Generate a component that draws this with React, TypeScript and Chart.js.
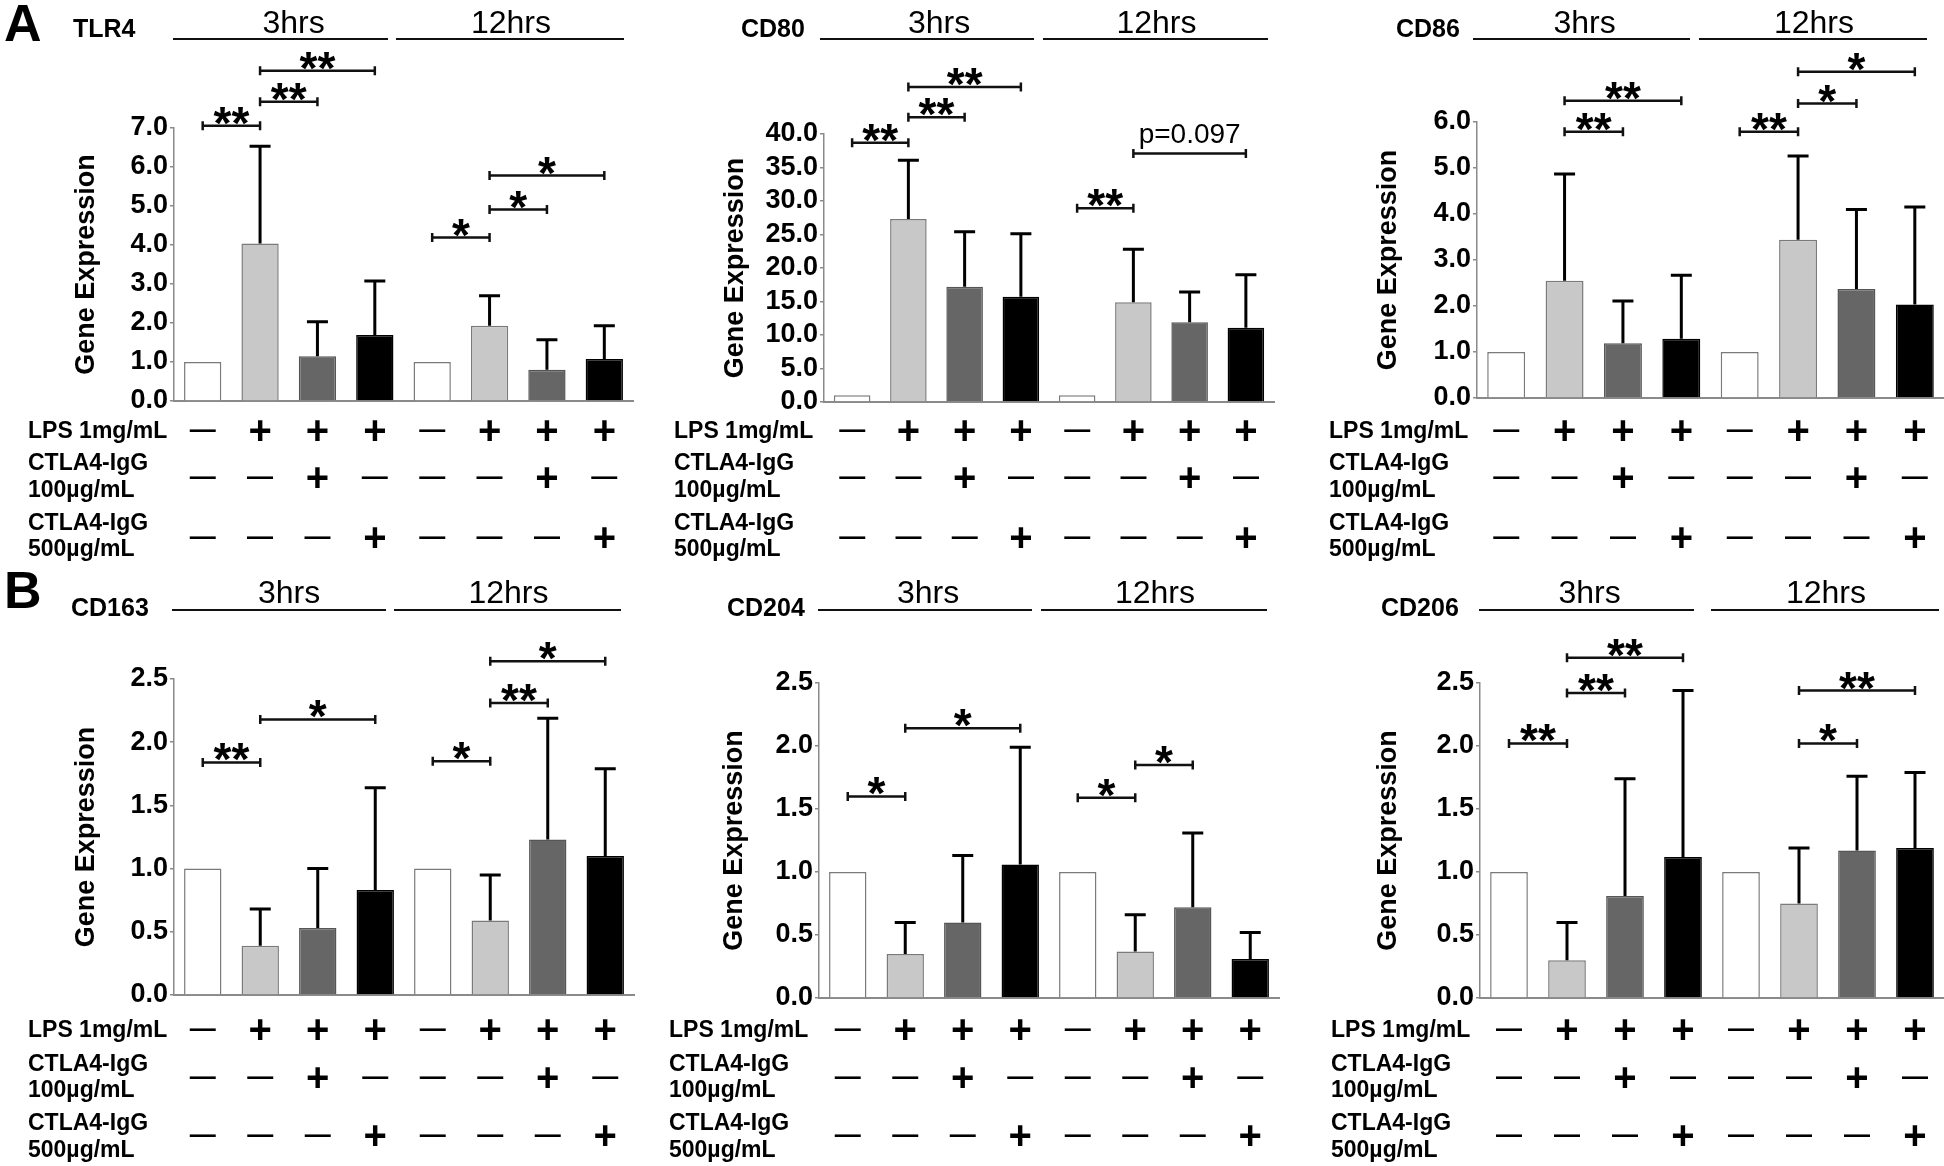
import React, { useEffect, useRef } from "react";
import { Chart, registerables } from "chart.js";
Chart.register(...registerables);

const FONT = '"Liberation Sans", Arial, Helvetica, sans-serif';

// ---------- data ----------
const categories = [
  "3hrs Control", "3hrs LPS", "3hrs LPS + CTLA4-IgG 100", "3hrs LPS + CTLA4-IgG 500",
  "12hrs Control", "12hrs LPS", "12hrs LPS + CTLA4-IgG 100", "12hrs LPS + CTLA4-IgG 500",
];
const timeGroups = ["3hrs", "12hrs"];
const rowLabels = ["LPS 1mg/mL", "CTLA4-IgG", "100µg/mL", "CTLA4-IgG", "500µg/mL"];
const lpsSigns = ["—", "+", "+", "+", "—", "+", "+", "+"];
const ctla100Signs = ["—", "—", "+", "—", "—", "—", "+", "—"];
const ctla500Signs = ["—", "—", "—", "+", "—", "—", "—", "+"];
const barColors = ["#ffffff", "#c8c8c8", "#666666", "#000000", "#ffffff", "#c8c8c8", "#666666", "#000000"];
const barBorders = ["#7a7a7a", "#7a7a7a", "#555555", "#000000", "#7a7a7a", "#7a7a7a", "#555555", "#000000"];

type Sig = [number, number, number, string];

const tlr4Mean = [1.0, 4.04, 1.15, 1.69, 1.0, 1.93, 0.8, 1.08];
const tlr4Err = [null, 6.53, 2.03, 3.08, null, 2.7, 1.57, 1.93];
const tlr4Ticks = [0, 1, 2, 3, 4, 5, 6, 7];
const tlr4Sig: Sig[] = [[0, 1, 7.06, "**"], [1, 2, 7.67, "**"], [1, 3, 8.47, "**"], [4, 5, 4.19, "*"], [5, 6, 4.91, "*"], [5, 7, 5.78, "*"]];

const cd80Mean = [1.0, 27.3, 17.2, 15.7, 1.0, 14.9, 11.9, 11.1];
const cd80Err = [null, 36.1, 25.4, 25.1, null, 22.8, 16.4, 19.0];
const cd80Ticks = [0, 5, 10, 15, 20, 25, 30, 35, 40];
const cd80Sig: Sig[] = [[0, 1, 38.7, "**"], [1, 2, 42.5, "**"], [1, 3, 47.0, "**"], [4, 5, 28.9, "**"], [5, 7, 37.1, "p=0.097"]];

const cd86Mean = [1.0, 2.55, 1.19, 1.29, 1.0, 3.44, 2.37, 2.03];
const cd86Err = [null, 4.87, 2.11, 2.67, null, 5.26, 4.1, 4.15];
const cd86Ticks = [0, 1, 2, 3, 4, 5, 6];
const cd86Sig: Sig[] = [[1, 2, 5.79, "**"], [1, 3, 6.46, "**"], [4, 5, 5.79, "**"], [5, 6, 6.4, "*"], [5, 7, 7.09, "*"]];

const cd163Mean = [1.0, 0.39, 0.53, 0.83, 1.0, 0.59, 1.23, 1.1];
const cd163Err = [null, 0.68, 1.0, 1.64, null, 0.95, 2.19, 1.79];
const cd163Ticks = [0, 0.5, 1.0, 1.5, 2.0, 2.5];
const cd163Sig: Sig[] = [[0, 1, 1.84, "**"], [1, 3, 2.18, "*"], [4, 5, 1.85, "*"], [5, 6, 2.31, "**"], [5, 7, 2.64, "*"]];

const cd204Mean = [1.0, 0.35, 0.6, 1.06, 1.0, 0.37, 0.72, 0.31];
const cd204Err = [null, 0.6, 1.13, 1.99, null, 0.66, 1.31, 0.52];
const cd204Ticks = [0, 0.5, 1.0, 1.5, 2.0, 2.5];
const cd204Sig: Sig[] = [[0, 1, 1.6, "*"], [1, 3, 2.14, "*"], [4, 5, 1.59, "*"], [5, 6, 1.85, "*"]];

const cd206Mean = [1.0, 0.3, 0.81, 1.12, 1.0, 0.75, 1.17, 1.19];
const cd206Err = [null, 0.6, 1.74, 2.44, null, 1.19, 1.76, 1.79];
const cd206Ticks = [0, 0.5, 1.0, 1.5, 2.0, 2.5];
const cd206Sig: Sig[] = [[0, 1, 2.02, "**"], [1, 2, 2.42, "**"], [1, 3, 2.7, "**"], [5, 6, 2.02, "*"], [5, 7, 2.44, "**"]];

// ---------- layout (page pixels) ----------
const rowA = { lps: 430, c1a: 462, c1b: 489, s1: 477, c2a: 522, c2b: 548, s2: 537 };
const rowB = { lps: 1029, c1a: 1063, c1b: 1089, s1: 1077, c2a: 1122, c2b: 1149, s2: 1135 };

const PANELS = [
  { title: "TLR4", mean: tlr4Mean, err: tlr4Err, ticks: tlr4Ticks, sig: tlr4Sig, left: 0, top: 0, w: 648, h: 564,
    axisX: 174, plotRight: 633, plotTop: 128, zeroY: 401, geX: 87, titleX: 73, titleY: 37, groupY: 33, lineY: 39,
    lines: [[173, 388], [396, 624]], g1dx: 13, labelX: 28, rows: rowA, letter: "A", letterY: 41 },
  { title: "CD80", mean: cd80Mean, err: cd80Err, ticks: cd80Ticks, sig: cd80Sig, left: 648, top: 0, w: 648, h: 564,
    axisX: 824, plotRight: 1274, plotTop: 134, zeroY: 402, geX: 736, titleX: 741, titleY: 37, groupY: 33, lineY: 39,
    lines: [[820, 1034], [1043, 1268]], g1dx: 12, labelX: 674, rows: rowA },
  { title: "CD86", mean: cd86Mean, err: cd86Err, ticks: cd86Ticks, sig: cd86Sig, left: 1296, top: 0, w: 648, h: 564,
    axisX: 1477, plotRight: 1944, plotTop: 122, zeroY: 398, geX: 1389, titleX: 1396, titleY: 37, groupY: 33, lineY: 39,
    lines: [[1473, 1690], [1699, 1927]], g1dx: 3, labelX: 1329, rows: rowA },
  { title: "CD163", mean: cd163Mean, err: cd163Err, ticks: cd163Ticks, sig: cd163Sig, left: 0, top: 564, w: 648, h: 602,
    axisX: 174, plotRight: 634, plotTop: 679, zeroY: 995, geX: 87, titleX: 71, titleY: 616, groupY: 603, lineY: 610,
    lines: [[172, 386], [394, 621]], g1dx: 10, labelX: 28, rows: rowB, letter: "B", letterY: 608 },
  { title: "CD204", mean: cd204Mean, err: cd204Err, ticks: cd204Ticks, sig: cd204Sig, left: 648, top: 564, w: 648, h: 602,
    axisX: 819, plotRight: 1279, plotTop: 683, zeroY: 998, geX: 735, titleX: 727, titleY: 616, groupY: 603, lineY: 610,
    lines: [[818, 1032], [1041, 1267]], g1dx: 3, labelX: 669, rows: rowB },
  { title: "CD206", mean: cd206Mean, err: cd206Err, ticks: cd206Ticks, sig: cd206Sig, left: 1296, top: 564, w: 648, h: 602,
    axisX: 1480, plotRight: 1944, plotTop: 683, zeroY: 998, geX: 1389, titleX: 1381, titleY: 616, groupY: 603, lineY: 610,
    lines: [[1479, 1694], [1711, 1939]], g1dx: 3, labelX: 1331, rows: rowB },
];

type Panel = typeof PANELS[number];

function makePlugin(p: Panel) {
  return {
    id: "panelDecor",
    afterDraw(chart: any) {
      const ctx: CanvasRenderingContext2D = chart.ctx;
      const xs = chart.scales.x;
      const ys = chart.scales.y;
      const ox = p.left;
      const oy = p.top;
      ctx.save();
      // error bars
      const meta = chart.getDatasetMeta(0);
      ctx.strokeStyle = "#000";
      ctx.lineWidth = 3;
      meta.data.forEach((bar: any, i: number) => {
        const e = p.err[i];
        if (e == null) return;
        const yT = ys.getPixelForValue(e);
        ctx.beginPath();
        ctx.moveTo(bar.x, bar.y);
        ctx.lineTo(bar.x, yT);
        ctx.moveTo(bar.x - 10.5, yT);
        ctx.lineTo(bar.x + 10.5, yT);
        ctx.stroke();
      });
      // significance brackets
      ctx.lineWidth = 2.5;
      ctx.strokeStyle = "#111";
      ctx.fillStyle = "#000";
      ctx.textAlign = "center";
      ctx.textBaseline = "alphabetic";
      for (const [a, b, v, lab] of p.sig) {
        const x1 = xs.getPixelForValue(a);
        const x2 = xs.getPixelForValue(b);
        const y = ys.getPixelForValue(v);
        ctx.beginPath();
        ctx.moveTo(x1, y);
        ctx.lineTo(x2, y);
        ctx.moveTo(x1, y - 4.5);
        ctx.lineTo(x1, y + 4.5);
        ctx.moveTo(x2, y - 4.5);
        ctx.lineTo(x2, y + 4.5);
        ctx.stroke();
        if (lab.startsWith("p")) {
          ctx.font = `28px ${FONT}`;
          ctx.fillText(lab, (x1 + x2) / 2, y - 10);
        } else {
          ctx.font = `bold 46px ${FONT}`;
          ctx.fillText(lab, (x1 + x2) / 2, y + 13);
        }
      }
      // letter
      if ((p as any).letter) {
        ctx.textAlign = "left";
        ctx.font = `bold 52px ${FONT}`;
        ctx.fillText((p as any).letter, 4 - ox, (p as any).letterY - oy);
      }
      // panel title
      ctx.textAlign = "left";
      ctx.font = `bold 25px ${FONT}`;
      ctx.fillText(p.title, p.titleX - ox, p.titleY - oy);
      // time groups
      ctx.lineWidth = 2;
      ctx.strokeStyle = "#111";
      ctx.font = `32px ${FONT}`;
      ctx.textAlign = "center";
      p.lines.forEach(([l1, l2], gi) => {
        ctx.beginPath();
        ctx.moveTo(l1 - ox, p.lineY - oy);
        ctx.lineTo(l2 - ox, p.lineY - oy);
        ctx.stroke();
        ctx.fillText(timeGroups[gi], (l1 + l2) / 2 - ox + (gi === 0 ? p.g1dx : 1), p.groupY - oy);
      });
      // condition table
      const r = p.rows;
      ctx.textAlign = "left";
      ctx.font = `bold 23px ${FONT}`;
      const lx = p.labelX - ox;
      ctx.fillText(rowLabels[0], lx, r.lps - oy + 8);
      ctx.fillText(rowLabels[1], lx, r.c1a - oy + 8);
      ctx.fillText(rowLabels[2], lx, r.c1b - oy + 8);
      ctx.fillText(rowLabels[3], lx, r.c2a - oy + 8);
      ctx.fillText(rowLabels[4], lx, r.c2b - oy + 8);
      ctx.textAlign = "center";
      const drawSign = (s: string, x: number, cy: number) => {
        if (s === "+") {
          ctx.font = `bold 40px ${FONT}`;
          ctx.fillText(s, x, cy - oy + 13.5);
        } else {
          ctx.font = `bold 26px ${FONT}`;
          ctx.fillText(s, x, cy - oy + 7.5);
        }
      };
      for (let i = 0; i < categories.length; i++) {
        const x = xs.getPixelForValue(i);
        drawSign(lpsSigns[i], x, r.lps);
        drawSign(ctla100Signs[i], x, r.s1);
        drawSign(ctla500Signs[i], x, r.s2);
      }
      ctx.restore();
    },
  };
}

function PanelChart({ p }: { p: Panel }) {
  const ref = useRef<HTMLCanvasElement | null>(null);
  useEffect(() => {
    if (!ref.current) return;
    const ticks = p.ticks;
    const step = ticks[1] - ticks[0];
    const yWidth = p.axisX - p.left;
    const geLine = 27 * 1.2;
    const chart = new Chart(ref.current, {
      type: "bar",
      data: {
        labels: categories,
        datasets: [
          {
            data: p.mean,
            backgroundColor: barColors,
            borderColor: barBorders,
            borderWidth: 1.5,
            barPercentage: 0.65,
            categoryPercentage: 1,
          },
        ],
      },
      options: {
        responsive: false,
        maintainAspectRatio: false,
        animation: false,
        events: [],
        layout: {
          padding: {
            left: 0,
            right: p.left + p.w - p.plotRight,
            top: p.plotTop - p.top,
            bottom: p.top + p.h - p.zeroY,
          },
        },
        plugins: { legend: { display: false }, tooltip: { enabled: false } },
        scales: {
          x: {
            grid: { display: false, drawTicks: false },
            ticks: { display: false },
            border: { display: true, color: "#8a8a8a", width: 2, dash: [2, 1.5] },
            afterFit: (s: any) => {
              s.height = 0;
            },
          },
          y: {
            min: ticks[0],
            max: ticks[ticks.length - 1],
            afterBuildTicks: (s: any) => {
              s.ticks = ticks.map((v) => ({ value: v }));
            },
            ticks: {
              stepSize: step,
              autoSkip: false,
              color: "#000",
              padding: 2,
              font: { family: FONT, size: 27, weight: "bold" },
              callback: (v: any) => Number(v).toFixed(1),
            },
            grid: { drawOnChartArea: false, drawTicks: true, tickLength: 4, color: "#8a8a8a", lineWidth: 1.5 },
            border: { display: true, color: "#8a8a8a", width: 1.5 },
            title: {
              display: true,
              text: "Gene Expression",
              color: "#000",
              font: { family: FONT, size: 27, weight: "bold", lineHeight: 1.2 },
              padding: { top: p.geX - p.left - geLine / 2, bottom: 0 },
            },
            afterFit: (s: any) => {
              s.width = yWidth;
            },
          },
        },
      } as any,
      plugins: [makePlugin(p)],
    });
    return () => chart.destroy();
  }, [p]);
  return (
    <canvas
      ref={ref}
      width={p.w}
      height={p.h}
      style={{ position: "absolute", left: p.left, top: p.top, width: p.w, height: p.h }}
    />
  );
}

export default function App() {
  return (
    <div style={{ position: "absolute", left: 0, top: 0, width: 1944, height: 1166, background: "#fff", overflow: "hidden" }}>
      {PANELS.map((p) => (
        <PanelChart key={p.title} p={p} />
      ))}
    </div>
  );
}
